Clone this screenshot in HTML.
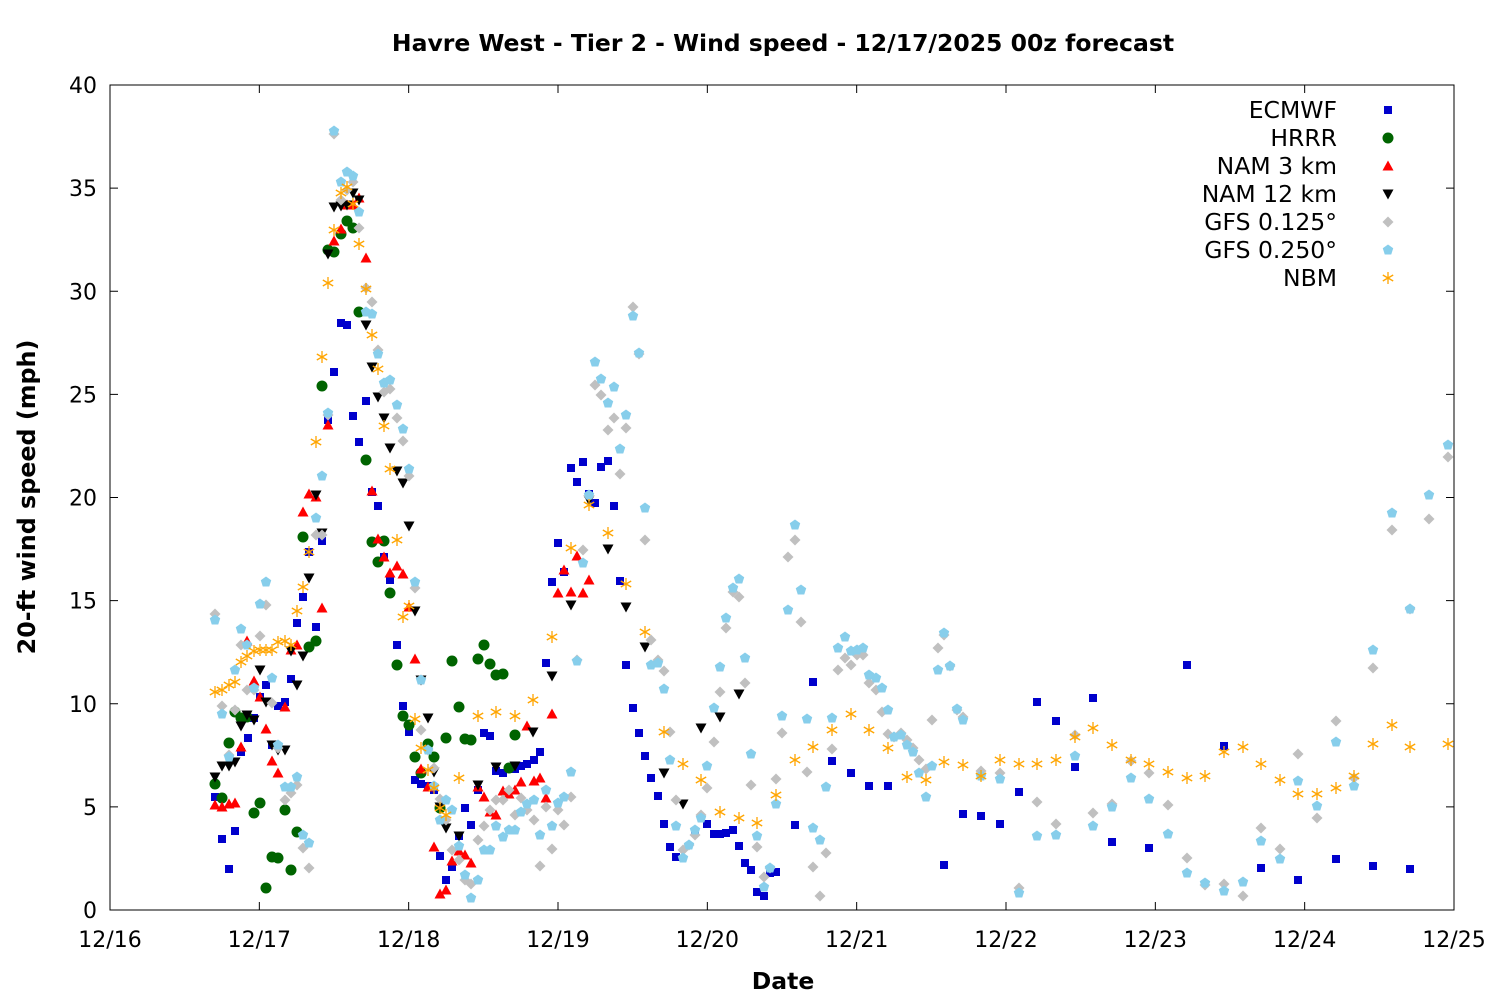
<!DOCTYPE html>
<html><head><meta charset="utf-8"><style>
html,body{margin:0;padding:0;background:#fff}
svg{display:block;font-family:"DejaVu Sans","Liberation Sans",sans-serif}
</style></head><body>
<svg id="s" width="1500" height="1000" xmlns="http://www.w3.org/2000/svg">
<rect width="1500" height="1000" fill="#fff"/>
<text x="783" y="51" text-anchor="middle" font-size="23.5" font-weight="bold">Havre West - Tier 2 - Wind speed - 12/17/2025 00z forecast</text>
<text x="783" y="989" text-anchor="middle" font-size="23.5" font-weight="bold">Date</text>
<text transform="translate(35,497) rotate(-90)" text-anchor="middle" font-size="23.8" font-weight="bold">20-ft wind speed (mph)</text>
<g id="ax" stroke="#000" stroke-width="1" fill="none"></g>
<g id="lab" font-size="22"></g>
<g id="pts"></g>
<g font-size="23.5" text-anchor="end">
<text x="1337" y="118">ECMWF</text>
<text x="1337" y="146">HRRR</text>
<text x="1337" y="174">NAM 3 km</text>
<text x="1337" y="202">NAM 12 km</text>
<text x="1337" y="230">GFS 0.125°</text>
<text x="1337" y="258">GFS 0.250°</text>
<text x="1337" y="286">NBM</text>
</g>
</svg>
<script>
var NS="http://www.w3.org/2000/svg";
function el(t,a,p){var e=document.createElementNS(NS,t);for(var k in a)e.setAttribute(k,a[k]);document.getElementById(p).appendChild(e);return e;}
var L=110,R=1454,T=85,B=910;
el('rect',{x:L,y:T,width:R-L,height:B-T},'ax');
for(var i=0;i<=8;i++){var y=B-i*(B-T)/8;el('line',{x1:L,y1:y,x2:L+8,y2:y},'ax');el('line',{x1:R,y1:y,x2:R-8,y2:y},'ax');
var t=el('text',{x:97,y:y+8,'text-anchor':'end'},'lab');t.textContent=i*5;}
var days=['12/16','12/17','12/18','12/19','12/20','12/21','12/22','12/23','12/24','12/25'];
for(var i=0;i<=9;i++){var x=L+i*(R-L)/9;el('line',{x1:x,y1:B,x2:x,y2:B-8},'ax');el('line',{x1:x,y1:T,x2:x,y2:T+8},'ax');
var t=el('text',{x:x,y:947,'text-anchor':'middle'},'lab');t.textContent=days[i];}
function P(s){var a=s.split(';'),r=[];a.forEach(function(q){var v=q.split(',');if(v.length==2)r.push([+v[0],+v[1]]);});return r;}
function sq(x,y,c){el('rect',{x:x-4,y:y-4,width:8,height:8,fill:c},'pts');}
function ci(x,y,c){el('circle',{cx:x,cy:y,r:5.5,fill:c},'pts');}
function tu(x,y,c){el('polygon',{points:(x-5.5)+','+(y+4.5)+' '+(x+5.5)+','+(y+4.5)+' '+x+','+(y-5.5),fill:c},'pts');}
function td(x,y,c){el('polygon',{points:(x-5.5)+','+(y-4.5)+' '+(x+5.5)+','+(y-4.5)+' '+x+','+(y+5.5),fill:c},'pts');}
function di(x,y,c){el('polygon',{points:x+','+(y-5.5)+' '+(x+5.5)+','+y+' '+x+','+(y+5.5)+' '+(x-5.5)+','+y,fill:c},'pts');}
function pe(x,y,c){var p=[];for(var k=0;k<5;k++){var a=-Math.PI/2+k*2*Math.PI/5;p.push((x+5.5*Math.cos(a))+','+(y+5.5*Math.sin(a)));}el('polygon',{points:p.join(' '),fill:c},'pts');}
function st(x,y,c){var g={stroke:c,'stroke-width':1.3};[[0,6],[5.2,3],[5.2,-3]].forEach(function(d){el('line',Object.assign({x1:x-d[0],y1:y-d[1],x2:x+d[0],y2:y+d[1]},g),'pts');});}
var gfs1=P("215,614;222,706;229,755;235,710;241,645;247,690;254,690;260,636;266,605;272,703;278,748;285,800;291,793;297,785;303,848;309,868;316,535;322,535;328,415;334,134;341,200;347,190;353,182;359,228;366,288;372,302;378,350;384,392;390,389;397,418;403,441;409,476;415,588;421,730;428,750;434,768;440,799;446,820;452,850;459,860;465,880;471,884;478,840;484,826;490,810;496,800;503,800;509,790;515,815;521,798;527,810;534,820;540,866;546,807;552,849;558,810;564,825;571,797;577,660;583,550;589,496;595,385;601,395;608,430;614,418;620,474;626,428;633,307;639,354;645,540;651,640;658,660;664,671;670,732;676,800;683,850;689,845;695,835;701,815;707,788;714,742;720,692;726,628;733,592;739,597;745,683;751,785;757,847;764,877;770,868;776,779;782,733;788,557;795,540;801,622;807,772;813,867;820,896;826,853;832,749;838,670;845,658;851,665;857,655;863,655;869,683;876,690;882,712;888,734;894,737;901,733;907,740;913,748;919,760;926,769;932,720;938,648;944,635;950,666;957,710;963,717;981,771;1000,773;1019,888;1037,802;1056,824;1075,735;1093,813;1112,804;1131,761;1149,773;1168,805;1187,858;1205,885;1224,884;1243,896;1261,828;1280,849;1298,754;1317,818;1336,721;1354,778;1373,668;1392,530;1410,609;1429,519;1448,457");
var gfs2=P("215,620;222,714;229,757;235,670;241,629;247,645;254,688;260,604;266,582;272,678;278,745;285,787;291,787;297,777;303,835;309,843;316,518;322,476;328,413;334,131;341,182;347,172;353,176;359,212;366,312;372,314;378,354;384,383;390,380;397,405;403,429;409,469;415,582;421,680;428,750;434,786;440,820;446,800;452,810;459,846;465,875;471,898;478,880;484,850;490,850;496,826;503,837;509,830;515,830;521,812;527,804;534,800;540,835;546,790;552,826;558,803;564,797;571,772;577,661;583,563;589,495;595,362;601,379;608,403;614,387;620,449;626,415;633,316;639,353;645,508;651,665;658,663;664,689;670,760;676,826;683,858;689,845;695,830;701,818;707,766;714,708;720,667;726,618;733,588;739,579;745,658;751,754;757,836;764,887;770,868;776,804;782,716;788,610;795,525;801,590;807,719;813,828;820,840;826,787;832,718;838,648;845,637;851,651;857,650;863,648;869,675;876,678;882,688;888,710;894,737;901,735;907,745;913,752;919,773;926,797;932,766;938,670;944,633;950,666;957,709;963,720;981,776;1000,779;1019,893;1037,836;1056,835;1075,756;1093,826;1112,807;1131,778;1149,799;1168,834;1187,873;1205,883;1224,891;1243,882;1261,841;1280,859;1298,781;1317,806;1336,742;1354,786;1373,650;1392,513;1410,609;1429,495;1448,445");
var nbm=P("215,692;222,690;229,685;235,682;241,662;247,656;254,651;260,650;266,650;272,650;278,642;285,641;291,645;297,611;303,587;309,552;316,442;322,357;328,283;334,230;341,193;347,187;353,204;359,244;366,289;372,335;378,369;384,426;390,469;397,540;403,617;409,606;415,719;421,748;428,770;434,788;440,808;446,815;459,778;478,716;496,712;515,716;533,700;552,637;571,548;589,505;608,533;626,584;645,632;664,732;683,764;701,780;720,812;739,818;757,823;776,795;795,760;813,747;832,730;851,714;869,730;888,748;907,777;926,780;944,762;963,765;981,776;1000,760;1019,764;1037,764;1056,760;1075,737;1093,728;1112,745;1131,760;1149,764;1168,772;1187,778;1205,776;1224,752;1243,747;1261,764;1280,780;1298,794;1317,794;1336,788;1354,776;1373,744;1392,725;1410,747;1448,744");
var ec=P("215,797;222,839;229,869;235,831;241,752;248,738;254,718;260,697;266,685;272,745;278,706;285,702;291,679;297,623;303,597;309,552;316,627;322,541;328,420;334,372;341,323;347,325;353,416;359,442;366,401;372,492;378,506;384,557;390,580;397,645;403,706;409,732;415,780;421,784;428,786;434,790;440,856;446,880;452,867;459,836;465,808;471,825;478,790;484,733;490,736;496,771;503,773;509,769;515,769;521,766;527,764;534,760;540,752;546,663;552,582;558,543;564,572;571,468;577,482;583,462;589,494;595,503;601,467;608,461;614,506;620,581;626,665;633,708;639,733;645,756;651,778;658,796;664,824;670,847;676,857;695,832;707,824;714,834;720,834;726,833;733,830;739,846;745,863;751,870;757,892;764,896;770,873;776,872;795,825;813,682;832,761;851,773;869,786;888,786;944,865;963,814;981,816;1000,824;1019,792;1037,702;1056,721;1075,767;1093,698;1112,842;1149,848;1187,665;1224,746;1261,868;1298,880;1336,859;1373,866;1410,869");
var hr=P("215,784;222,798;229,743;235,712;241,718;247,717;254,813;260,803;266,888;272,857;278,858;285,810;291,870;297,832;303,537;309,647;316,641;322,386;328,250;334,252;341,234;347,221;353,228;359,312;366,460;372,542;378,562;384,541;390,593;397,665;403,716;409,725;415,757;421,773;428,744;434,757;440,808;446,738;452,661;459,707;465,739;471,740;478,659;484,645;490,664;496,675;503,674;509,768;515,735");
var n3=P("215,805;222,807;229,804;235,803;241,747;247,641;254,681;260,697;266,729;272,761;278,773;285,707;291,650;297,645;303,512;309,494;316,497;322,608;328,425;334,241;341,229;347,205;353,205;359,198;366,258;372,491;378,539;384,557;390,573;397,566;403,574;409,607;415,659;421,769;428,787;434,847;440,894;446,890;452,861;459,851;465,855;471,863;478,787;484,797;490,812;496,815;503,791;509,794;515,790;521,782;527,726;534,781;540,778;546,798;552,714;558,593;564,570;571,592;577,556;583,593;589,580");
var n12=P("215,777;222,766;229,766;235,762;241,726;247,715;254,720;260,670;266,702;272,745;278,750;285,750;291,651;297,685;303,656;309,578;316,495;322,533;328,254;334,207;341,206;347,205;353,193;359,200;366,325;372,367;378,397;384,418;390,448;397,471;403,483;409,526;415,611;421,680;428,718;434,772;440,807;446,828;459,836;478,785;496,767;515,766;533,732;552,676;571,605;589,500;608,549;626,607;645,647;664,773;683,804;701,728;720,717;739,694");
ec.forEach(function(p){sq(p[0],p[1],'#0000cc');});
hr.forEach(function(p){ci(p[0],p[1],'#006400');});
n3.forEach(function(p){tu(p[0],p[1],'#ff0000');});
n12.forEach(function(p){td(p[0],p[1],'#000');});
gfs1.forEach(function(p){di(p[0],p[1],'#c0c0c0');});
gfs2.forEach(function(p){pe(p[0],p[1],'#87ceeb');});
nbm.forEach(function(p){st(p[0],p[1],'#ffa500');});
sq(1388,110,'#0000cc');ci(1388,138,'#006400');tu(1388,166,'#ff0000');td(1388,194,'#000');di(1388,222,'#c0c0c0');pe(1388,250,'#87ceeb');st(1388,278,'#ffa500');
</script>
</body></html>
